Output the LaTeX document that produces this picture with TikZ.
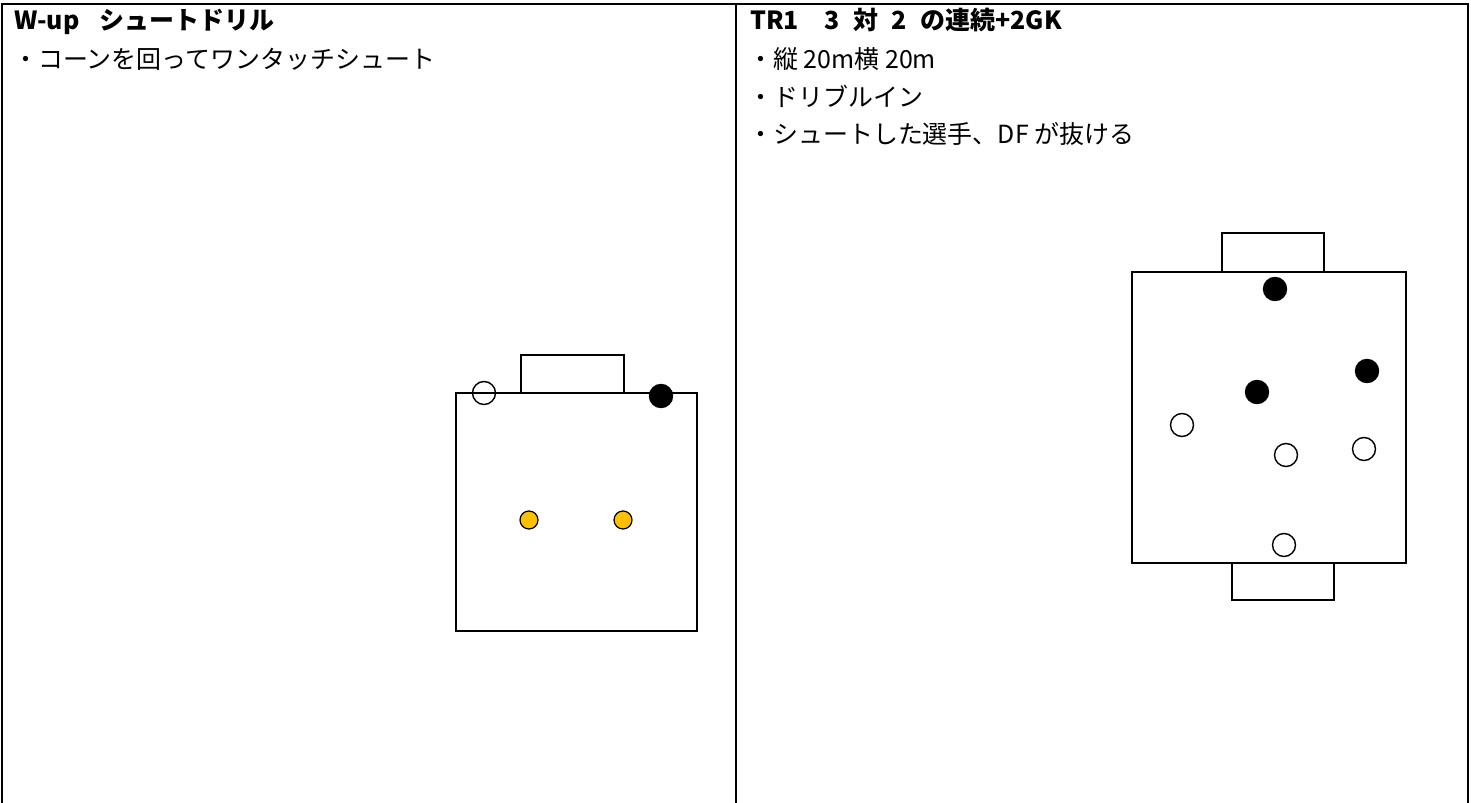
\documentclass[tikz,border=0pt]{standalone}
\usepackage{fontspec}
\setmainfont{Noto Sans CJK JP}
\definecolor{conecol}{HTML}{FFC000}

\begin{document}
\begin{tikzpicture}[%
    x=0.02cm,
    y=-0.02cm,
    frame/.style={line width=1pt},
    pitch/.style={draw, line width=1.3pt},
    player/.style={circle, draw, line width=0.8pt, inner sep=0pt, minimum size=0.46cm},
    attacker/.style={player},
    defender/.style={player, fill=black},
    cone/.style={circle, draw, fill=conecol, line width=0.7pt, inner sep=0pt, minimum size=0.36cm},
    heading/.style={anchor=base west, inner sep=0pt, font=\fontsize{14.2}{17}\selectfont\bfseries},
    note/.style={anchor=base west, inner sep=0pt, font=\fontsize{14.2}{17}\selectfont}
  ]

  \useasboundingbox (0,0) rectangle (1471,803);

  % table
  \draw[frame] (2,803) -- (2,4) -- (1468,4) -- (1468,803);
  \draw[frame] (736,4) -- (736,803);

  % left column
  \node[heading] (wtitle) at (14,30) {W-up\hspace{0.8em}シュートドリル};
  \node[note] (wnote) at (13,69) {・コーンを回ってワンタッチシュート};

  \draw[pitch] (456,393) rectangle (697,631);
  \draw[pitch] (521,393) -- (521,355) -- (624,355) -- (624,393);

  \node[attacker] (wa) at (484,393) {};
  \node[defender] (wd) at (661,396) {};
  \node[cone] (wc1) at (529,520) {};
  \node[cone] (wc2) at (623,520) {};

  % right column
  \node[heading] (ttitle) at (750,30)
    {TR1\hspace{1em}3\hspace{0.55em}対\hspace{0.55em}2\hspace{0.55em}の連続+2GK};
  \node[note] (tnote1) at (748,69) {・縦 20m横 20m};
  \node[note] (tnote2) at (748,107) {・ドリブルイン};
  \node[note] (tnote3) at (748,144) {・シュートした選手、DF が抜ける};

  \draw[pitch] (1132,272) rectangle (1406,563);
  \draw[pitch] (1222,272) -- (1222,233) -- (1324,233) -- (1324,272);
  \draw[pitch] (1232,563) -- (1232,600) -- (1334,600) -- (1334,563);

  \node[defender] (td1) at (1275,289) {};
  \node[defender] (td2) at (1367,371) {};
  \node[defender] (td3) at (1257,392) {};
  \node[attacker] (ta1) at (1182,425) {};
  \node[attacker] (ta2) at (1286,455) {};
  \node[attacker] (ta3) at (1364,449) {};
  \node[attacker] (ta4) at (1284,545) {};

\end{tikzpicture}
\end{document}
